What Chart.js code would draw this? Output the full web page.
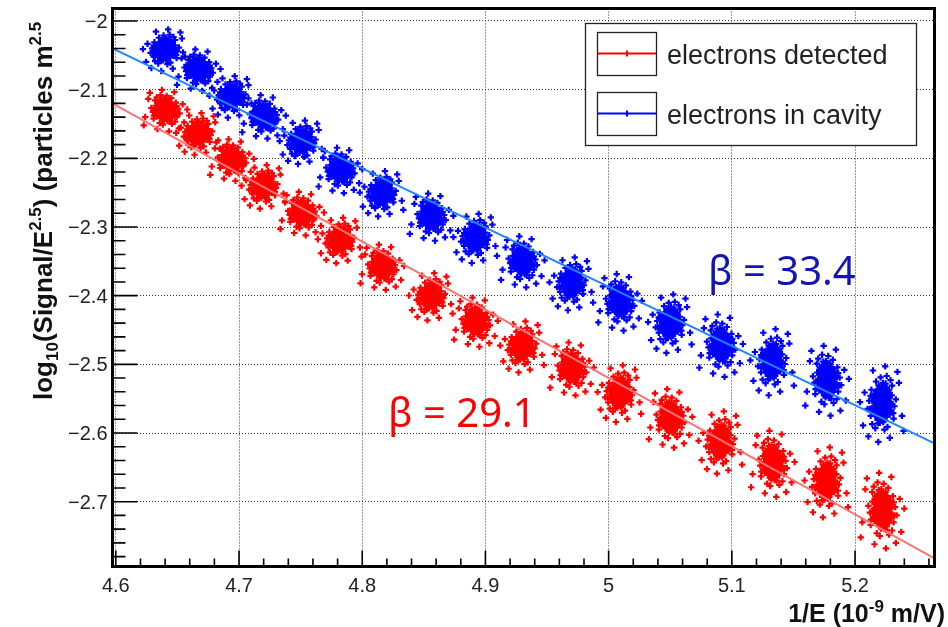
<!DOCTYPE html>
<html>
<head>
<meta charset="utf-8">
<script src="https://cdn.jsdelivr.net/npm/chart.js@4.4.1/dist/chart.umd.min.js"></script>
<style>
  html, body { margin: 0; padding: 0; background: #fff; }
  #wrap { width: 948px; height: 627px; }
</style>
</head>
<body>
<div id="wrap"><canvas id="chart" width="948" height="627"></canvas></div>
<script>
// Series names
const seriesNames = ['electrons detected', 'electrons in cavity'];

// Cluster centres (1/E in 1e-9 m/V)
const clusterX = [4.640, 4.667, 4.694, 4.720, 4.751, 4.782, 4.816, 4.856, 4.892,
                  4.930, 4.970, 5.009, 5.050, 5.091, 5.133, 5.177, 5.222];
const detectedY = [-2.130, -2.164, -2.202, -2.241, -2.280, -2.319, -2.358, -2.401, -2.438,
                   -2.474, -2.506, -2.542, -2.578, -2.613, -2.644, -2.671, -2.712];
const cavityY = [-2.042, -2.071, -2.110, -2.139, -2.176, -2.217, -2.251, -2.285, -2.316,
                 -2.350, -2.382, -2.409, -2.440, -2.472, -2.496, -2.523, -2.557];

// Estimated vertical spread (sigma) of each cluster, and the horizontal one
const spreadY = [0.0110, 0.0110, 0.0110, 0.0115, 0.0115, 0.0120, 0.0120, 0.0125, 0.0130,
                 0.0135, 0.0140, 0.0150, 0.0155, 0.0165, 0.0175, 0.0185, 0.0200];
const spreadX = 0.0062;

// Shape of one cloud of points, in sigma units (hand-typed)
const jitter = [
  [0.0, 0.0], [0.3, 0.2], [-0.4, 0.1], [0.1, -0.5], [-0.2, -0.3], [0.6, -0.1], [-0.7, 0.4], [0.5, 0.6],
  [-0.1, 0.8], [0.2, -0.9], [-0.6, -0.7], [0.9, 0.3], [-0.9, -0.2], [0.7, -0.6], [-0.3, 0.5], [0.4, -0.3],
  [-0.5, 0.9], [0.1, 0.4], [-0.8, 0.7], [0.8, 0.9], [0.0, -1.1], [1.1, -0.2], [-1.1, 0.1], [0.3, 1.1],
  [-0.4, -1.0], [0.6, -1.2], [-1.0, -0.8], [1.0, 0.7], [-0.2, 1.3], [0.2, 0.0], [-0.1, -0.1], [0.5, 0.2],
  [-0.6, -0.2], [0.2, -0.2], [-0.3, 0.3], [0.0, 0.6], [0.4, 0.8], [-0.5, -0.5], [0.7, 0.1], [-0.7, -0.1],
  [0.1, -0.7], [-0.2, 0.1], [0.9, -0.9], [-0.9, 1.0], [1.2, 0.4], [-1.2, -0.5], [0.5, -0.8], [-0.4, 0.7],
  [0.15, -0.35], [-0.35, -0.15], [0.45, 0.45], [-0.55, 0.55], [0.85, -0.35], [-0.85, -0.45], [0.25, 0.75],
  [-0.25, -0.75], [1.05, 0.1], [-0.15, 1.05],
  [0.05, 0.25], [-0.25, 0.35], [0.35, -0.05], [-0.45, -0.35], [0.55, -0.45], [-0.65, 0.25], [0.75, 0.45],
  [-0.75, -0.55], [0.15, 0.95], [-0.35, -1.2], [0.95, -0.15], [-1.0, 0.45], [0.6, 1.0], [-0.6, 1.15],
  [1.15, -0.6], [-1.15, -0.2], [0.05, -0.85], [-0.05, 0.45], [0.4, -0.6], [-0.3, -0.55], [0.65, 0.35],
  [-0.45, 0.25], [0.25, -1.05], [-0.85, 0.15], [0.85, 0.6], [-0.15, -1.35], [1.3, 0.2], [-1.3, -0.1],
  [0.45, 1.3], [-0.55, -0.95], [1.0, -0.45], [-0.95, 0.8], [0.1, 1.25], [0.7, -0.95], [-0.75, 0.95],
  [1.25, -0.35], [-1.25, 0.6], [0.55, -1.45], [-0.45, 1.45], [1.5, 0.55], [-1.45, -0.7], [1.6, -0.4],
  [0.3, -1.4], [-0.1, 1.5], [1.4, 1.0], [-1.3, 1.3], [1.5, -0.9], [-1.5, -1.1], [0.8, 1.6], [-0.7, -1.7],
  [1.7, 0.2], [-1.8, 0.3], [0.2, 1.9], [-0.3, -1.9], [1.3, -1.5], [-1.1, 1.7], [1.9, -0.4], [-1.6, -0.2],
  [0.9, -1.8], [-0.6, 2.0],
  [2.3, 0.8], [-2.2, 1.5], [1.2, 2.4], [-1.0, -2.5], [2.5, -1.6], [-2.6, -0.9], [0.5, -2.8], [-0.4, 2.7],
  [2.9, 0.1], [-2.0, 2.3], [1.8, -2.4], [-2.8, -2.0]
];

// Fit lines, end points at the frame edges
const detectedFitX = [4.5973, 5.2645];
const detectedFitY = [-2.1199, -2.7824];
const cavityFitX = [4.5973, 5.2645];
const cavityFitY = [-2.0398, -2.6150];

// Slopes written on the plot
const betaLabels = ['β = 29.1', 'β = 33.4'];

// Axes
const xTicks = [4.6, 4.7, 4.8, 4.9, 5.0, 5.1, 5.2];
const xTickLabels = ['4.6', '4.7', '4.8', '4.9', '5', '5.1', '5.2'];
const yTicks = [-2.0, -2.1, -2.2, -2.3, -2.4, -2.5, -2.6, -2.7];
const yTickLabels = ['\u22122', '\u22122.1', '\u22122.2', '\u22122.3', '\u22122.4', '\u22122.5', '\u22122.6', '\u22122.7'];
const xRange = [4.5973, 5.2645];
const yRange = [-2.7944, -1.9818];

const RED = '#ff0000';
const BLUE = '#0000ff';
const FONT = '"Liberation Sans", Arial, sans-serif';

function cloud(ys, flip) {
  const pts = [];
  clusterX.forEach((cx, i) => {
    const s = (i % 2 ? -1 : 1) * flip;
    jitter.forEach(([dx, dy]) => {
      pts.push({ x: cx + dx * spreadX * s, y: ys[i] + dy * spreadY[i] });
    });
  });
  return pts;
}

function line(xs, ys) {
  return xs.map((x, i) => ({ x, y: ys[i] }));
}

// draw a run of text pieces [text, size, dy] left to right, starting at x
function richText(ctx, parts, x, y, weight) {
  parts.forEach(([t, size, dy]) => {
    ctx.font = `${weight} ${size}px ${FONT}`;
    ctx.fillText(t, x, y + dy);
    x += ctx.measureText(t).width;
  });
}
function richWidth(ctx, parts, weight) {
  let w = 0;
  parts.forEach(([t, size]) => {
    ctx.font = `${weight} ${size}px ${FONT}`;
    w += ctx.measureText(t).width;
  });
  return w;
}

// ROOT-like frame, inner ticks, labels, axis titles, legend and text
const rootDecor = {
  id: 'rootDecor',
  beforeDraw(chart) {
    const ctx = chart.ctx;
    ctx.save();
    ctx.fillStyle = '#fff';
    ctx.fillRect(0, 0, chart.width, chart.height);
    ctx.restore();
  },
  afterDraw(chart) {
    const { ctx, chartArea: a, scales: { x, y } } = chart;
    ctx.save();

    // inner ticks
    ctx.strokeStyle = '#000';
    ctx.lineWidth = 1.6;
    ctx.beginPath();
    for (let k = 0; k < 40; k++) {
      const v = 4.58 + k * 0.02;
      const px = x.getPixelForValue(v);
      if (px < a.left + 1 || px > a.right - 1) continue;
      const len = (k % 5 === 1) ? 16 : 8;
      ctx.moveTo(px, a.bottom);
      ctx.lineTo(px, a.bottom - len);
    }
    for (let k = 0; k < 45; k++) {
      const v = -1.98 - k * 0.02;
      const py = y.getPixelForValue(v);
      if (py < a.top + 1 || py > a.bottom - 1) continue;
      const len = (k % 5 === 1) ? 25 : 13;
      ctx.moveTo(a.left, py);
      ctx.lineTo(a.left + len, py);
    }
    ctx.stroke();

    // frame
    ctx.lineWidth = 3;
    ctx.strokeRect(a.left, a.top, a.right - a.left, a.bottom - a.top);

    // tick labels
    ctx.fillStyle = '#222';
    ctx.font = `20px ${FONT}`;
    ctx.textBaseline = 'alphabetic';
    ctx.textAlign = 'center';
    xTicks.forEach((v, i) => ctx.fillText(xTickLabels[i], x.getPixelForValue(v), a.bottom + 25.5));
    ctx.textAlign = 'right';
    yTicks.forEach((v, i) => ctx.fillText(yTickLabels[i], a.left - 5, y.getPixelForValue(v) + 7));

    // x title
    ctx.fillStyle = '#111';
    ctx.textAlign = 'left';
    const xt = [['1/E (10', 25, 0], ['-9', 17, -10], [' m/V)', 25, 0]];
    richText(ctx, xt, 945 - richWidth(ctx, xt, 'bold'), 621.5, 'bold');

    // y title
    ctx.save();
    ctx.translate(52, 400);
    ctx.rotate(-Math.PI / 2);
    const yt = [['log', 26, 0], ['10', 17, 6], ['(Signal/E', 26, 0], ['2.5', 17, -11],
                [') (particles m', 26, 0], ['2.5', 17, -11]];
    richText(ctx, yt, 0, 0, 'bold');
    ctx.restore();

    // legend
    const lx = 585, ly = 23, lw = 331, lh = 122;
    ctx.fillStyle = '#fff';
    ctx.fillRect(lx, ly, lw, lh);
    ctx.strokeStyle = '#222';
    ctx.lineWidth = 1.3;
    ctx.strokeRect(lx + 0.5, ly + 0.5, lw, lh);
    [RED, BLUE].forEach((col, i) => {
      const top = ly + 9 + i * 60;
      const mid = top + 21.5;
      ctx.strokeStyle = '#222';
      ctx.lineWidth = 1.3;
      ctx.strokeRect(597.5, top + 0.5, 59, 43);
      ctx.strokeStyle = col;
      ctx.lineWidth = 2;
      ctx.beginPath();
      ctx.moveTo(598, mid); ctx.lineTo(656, mid);
      ctx.moveTo(627, mid - 3); ctx.lineTo(627, mid + 3);
      ctx.stroke();
      ctx.fillStyle = '#222';
      ctx.font = `27px ${FONT}`;
      ctx.fillText(seriesNames[i], 667, mid + 10);
    });

    // slopes
    ctx.font = '40px "Noto Sans", "Open Sans", sans-serif';
    ctx.fillStyle = RED;
    ctx.fillText(betaLabels[0], x.getPixelForValue(4.821), y.getPixelForValue(-2.5912));
    ctx.fillStyle = '#1414b4';
    ctx.fillText(betaLabels[1], x.getPixelForValue(5.0807), y.getPixelForValue(-2.3845));

    ctx.restore();
  }
};

new Chart(document.getElementById('chart'), {
  type: 'scatter',
  data: {
    datasets: [
      {
        label: seriesNames[0] + ' fit',
        type: 'line',
        data: line(detectedFitX, detectedFitY),
        borderColor: '#ff7272',
        borderWidth: 2,
        pointRadius: 0,
        order: 0,
      },
      {
        label: seriesNames[1] + ' fit',
        type: 'line',
        data: line(cavityFitX, cavityFitY),
        borderColor: '#1f84ff',
        borderWidth: 2,
        pointRadius: 0,
        order: 0,
      },
      {
        label: seriesNames[0],
        data: cloud(detectedY, 1),
        pointStyle: 'cross',
        pointRadius: 3.2,
        borderWidth: 2.2,
        borderColor: RED,
        backgroundColor: RED,
        order: 1,
      },
      {
        label: seriesNames[1],
        data: cloud(cavityY, -1),
        pointStyle: 'cross',
        pointRadius: 3.2,
        borderWidth: 2.2,
        borderColor: BLUE,
        backgroundColor: BLUE,
        order: 1,
      },
    ],
  },
  options: {
    responsive: false,
    animation: false,
    events: [],
    layout: { padding: { top: 8.5, right: 13.5, bottom: 0, left: 0 } },
    plugins: {
      legend: { display: false },
      tooltip: { enabled: false },
    },
    scales: {
      x: {
        type: 'linear',
        min: xRange[0],
        max: xRange[1],
        afterBuildTicks: s => { s.ticks = xTicks.map(v => ({ value: v })); },
        afterFit: s => { s.height = 60.5; },
        grid: { color: '#333', lineWidth: 1, drawTicks: false },
        border: { display: false, dash: [1, 2] },
        ticks: { display: false },
      },
      y: {
        type: 'linear',
        min: yRange[0],
        max: yRange[1],
        afterBuildTicks: s => { s.ticks = yTicks.map(v => ({ value: v })); },
        afterFit: s => { s.width = 112.5; },
        grid: { color: '#333', lineWidth: 1, drawTicks: false },
        border: { display: false, dash: [1, 2] },
        ticks: { display: false },
      },
    },
  },
  plugins: [rootDecor],
});
</script>
</body>
</html>
